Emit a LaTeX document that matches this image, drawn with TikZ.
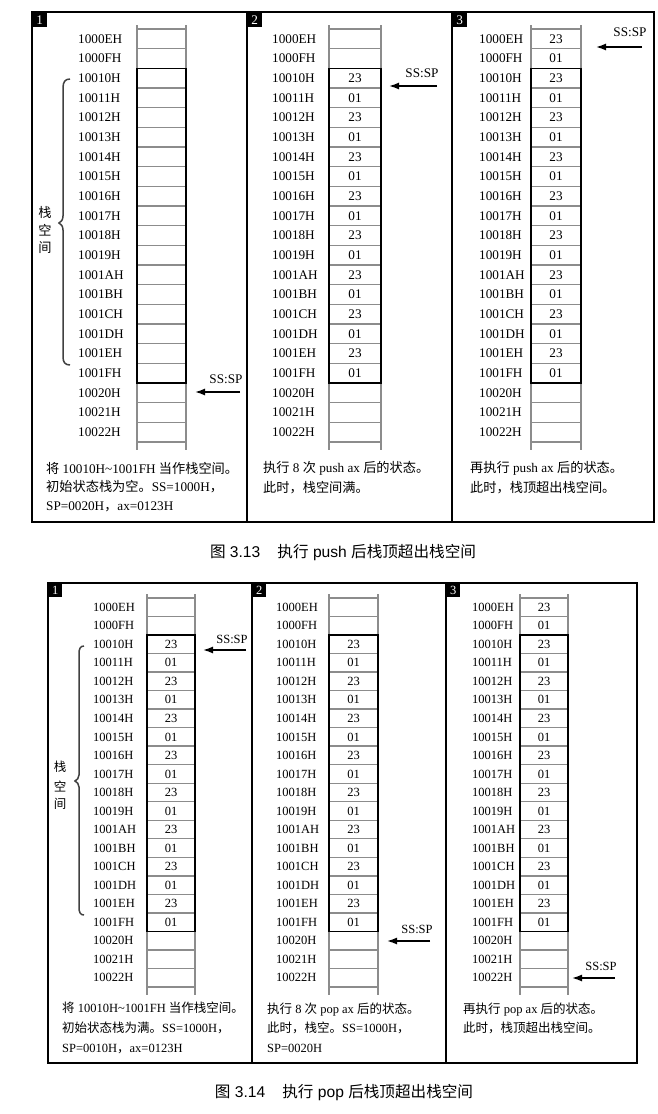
\documentclass[tikz,border=0pt]{standalone}
\usepackage{fontspec}
\setmainfont{Liberation Serif}
\newfontfamily\cjk{Noto Sans CJK SC}
\newfontfamily\capsans{Liberation Sans}
\usetikzlibrary{arrows.meta}
\newcommand\zh[1]{{\cjk #1}}
\tikzset{
  lab/.style={inner sep=0pt, anchor=west},
  val/.style={inner sep=0pt},
  rung/.style={draw=black!45, line width=1.4pt},
  rail/.style={draw=black!45, line width=1.4pt},
  stackbox/.style={draw=black, line width=1.5pt},
  frame/.style={draw=black, line width=1.5pt},
  badge/.style={fill=black, text=white, minimum size=#1, inner sep=0pt, anchor=north west},
  ptr/.style={line width=1.5pt, -{Latex[length=10pt,width=7pt]}},
  desc/.style={inner sep=0pt, anchor=base west},
  sslab/.style={inner sep=0pt},
  bracepath/.style={draw=black!75, line width=1.5pt},
  vlab/.style={inner sep=0pt},
  captext/.style={inner sep=0pt},
}
\newcommand\ladder[7]{%
  % #1 name, #2 xl, #3 xr, #4 label x, #5 y0, #6 dy, #7 first value row (99 = none)
  \draw[rail] (#2,#5-4) -- (#2,{#5+21*#6+8});
  \draw[rail] (#3,#5-4) -- (#3,{#5+21*#6+8});
  \foreach \rr in {0,...,21}{\draw[rung] (#2,{#5+\rr*#6}) -- (#3,{#5+\rr*#6});}
  \draw[stackbox] (#2,{#5+2*#6}) rectangle (#3,{#5+18*#6});
  \foreach \lab [count=\rr from 0] in {1000EH,1000FH,10010H,10011H,10012H,10013H,10014H,10015H,10016H,10017H,10018H,10019H,1001AH,1001BH,1001CH,1001DH,1001EH,1001FH,10020H,10021H,10022H}{%
    \node[lab] (#1-l\rr) at (#4,{#5+(\rr+0.5)*#6}) {\lab};
  }
  \ifnum#7<18
  \foreach \rr in {#7,...,17}{%
    \node[val] (#1-v\rr) at ({(#2+#3)/2},{#5+(\rr+0.5)*#6}) {\ifodd\rr\relax 01\else 23\fi};
  }\fi
}
\begin{document}
\begin{tikzpicture}[x=1pt,y=-1pt]
\useasboundingbox (0,0) rectangle (657,1114);
% ================= Figure 3.13 =================
\begin{scope}[font=\fontsize{13.2}{15}\selectfont]
\draw[frame] (32,12) rectangle (247,522);
\draw[frame] (247,12) rectangle (452,522);
\draw[frame] (452,12) rectangle (654,522);
\node[badge=15pt] (b1) at (32,12) {1};
\node[badge=15pt] (b2) at (247,12) {2};
\node[badge=15pt] (b3) at (452,12) {3};

\ladder{A}{137}{186}{78}{29}{19.67}{99}
\ladder{B}{329}{381}{272}{29}{19.67}{2}
\ladder{C}{531}{581}{479}{29}{19.67}{0}

\draw[bracepath] (70,79) .. controls (65,79) and (63,82) .. (63,88) -- (63,216)
  .. controls (63,220) and (61,222) .. (59,223) .. controls (61,224) and (63,226) .. (63,230)
  -- (63,357) .. controls (63,362) and (65,365) .. (70,365);
\node[vlab] (Asz1) at (45,212) {\zh{栈}};
\node[vlab] (Asz2) at (45,230) {\zh{空}};
\node[vlab] (Asz3) at (45,248) {\zh{间}};

\node[sslab] (A-ss) at (226,379) {SS:SP};
\coordinate (A-from) at (240,392); \coordinate (A-to) at (195,392);
\draw[ptr] (A-from) -- (A-to);
\node[sslab] (B-ss) at (422,73) {SS:SP};
\coordinate (B-from) at (437,86); \coordinate (B-to) at (389,86);
\draw[ptr] (B-from) -- (B-to);
\node[sslab] (C-ss) at (630,32) {SS:SP};
\coordinate (C-from) at (642,47); \coordinate (C-to) at (596,47);
\draw[ptr] (C-from) -- (C-to);

\node[desc] (A-d1) at (46,473) {\zh{将} 10010H\textasciitilde 1001FH \zh{当作栈空间。}};
\node[desc] (A-d2) at (46,491) {\zh{初始状态栈为空。}SS=1000H\zh{，}};
\node[desc] (A-d3) at (46,510) {SP=0020H\zh{，}ax=0123H};
\node[desc] (B-d1) at (263,472) {\zh{执行} 8 \zh{次} push ax \zh{后的状态。}};
\node[desc] (B-d2) at (263,492) {\zh{此时，栈空间满。}};
\node[desc] (C-d1) at (470,472) {\zh{再执行} push ax \zh{后的状态。}};
\node[desc] (C-d2) at (470,492) {\zh{此时，栈顶超出栈空间。}};
\end{scope}
\node[captext, font=\capsans\fontsize{15.6}{16}\selectfont] (cap1) at (343,553)
  {\zh{图} 3.13\hspace{1.1em}\zh{执行} push \zh{后栈顶超出栈空间}};

% ================= Figure 3.14 =================
\begin{scope}[font=\fontsize{12.5}{14}\selectfont]
\draw[frame] (48,583) rectangle (252,1063);
\draw[frame] (252,583) rectangle (446,1063);
\draw[frame] (446,583) rectangle (637,1063);
\node[badge=14pt] (b4) at (48,583) {1};
\node[badge=14pt] (b5) at (252,583) {2};
\node[badge=14pt] (b6) at (446,583) {3};

\ladder{D}{147}{195}{93}{598}{18.52}{2}
\ladder{E}{329}{378}{276}{598}{18.52}{2}
\ladder{F}{520}{568}{472}{598}{18.52}{0}

\draw[bracepath] (84,646) .. controls (80,646) and (79,649) .. (79,654) -- (79,775)
  .. controls (79,778) and (77,780) .. (75,781) .. controls (77,782) and (79,784) .. (79,787)
  -- (79,907) .. controls (79,912) and (80,915) .. (84,915);
\node[vlab] (Dsz1) at (60,767) {\zh{栈}};
\node[vlab] (Dsz2) at (60,786) {\zh{空}};
\node[vlab] (Dsz3) at (60,804) {\zh{间}};

\node[sslab] (D-ss) at (232,639) {SS:SP};
\coordinate (D-from) at (246,650); \coordinate (D-to) at (203,650);
\draw[ptr] (D-from) -- (D-to);
\node[sslab] (E-ss) at (417,929) {SS:SP};
\coordinate (E-from) at (430,941); \coordinate (E-to) at (387,941);
\draw[ptr] (E-from) -- (E-to);
\node[sslab] (F-ss) at (601,966) {SS:SP};
\coordinate (F-from) at (615,978); \coordinate (F-to) at (572,978);
\draw[ptr] (F-from) -- (F-to);

\node[desc] (D-d1) at (62,1012) {\zh{将} 10010H\textasciitilde 1001FH \zh{当作栈空间。}};
\node[desc] (D-d2) at (62,1032) {\zh{初始状态栈为满。}SS=1000H\zh{，}};
\node[desc] (D-d3) at (62,1052) {SP=0010H\zh{，}ax=0123H};
\node[desc] (E-d1) at (267,1013) {\zh{执行} 8 \zh{次} pop ax \zh{后的状态。}};
\node[desc] (E-d2) at (267,1032) {\zh{此时，栈空。}SS=1000H\zh{，}};
\node[desc] (E-d3) at (267,1052) {SP=0020H};
\node[desc] (F-d1) at (463,1013) {\zh{再执行} pop ax \zh{后的状态。}};
\node[desc] (F-d2) at (463,1032) {\zh{此时，栈顶超出栈空间。}};
\end{scope}
\node[captext, font=\capsans\fontsize{15.6}{16}\selectfont] (cap2) at (344,1093)
  {\zh{图} 3.14\hspace{1.1em}\zh{执行} pop \zh{后栈顶超出栈空间}};
\end{tikzpicture}
\end{document}
